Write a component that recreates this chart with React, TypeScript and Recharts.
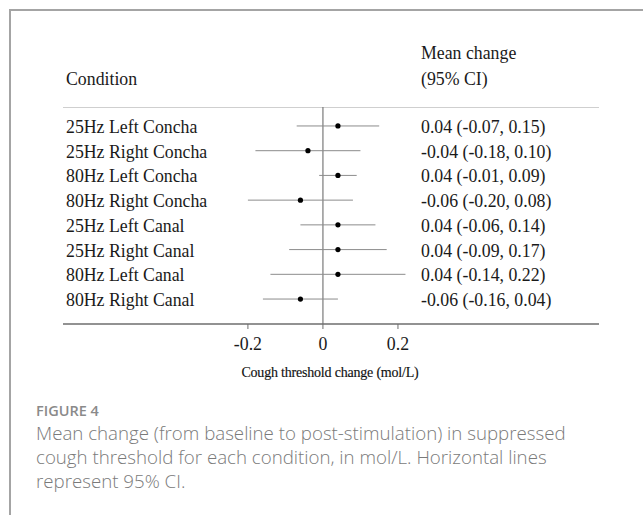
import React from 'react';
import { ScatterChart, Scatter, XAxis, YAxis, ErrorBar, ReferenceLine } from 'recharts';

// forest plot data
const conditions = [
    '25Hz Left Concha', '25Hz Right Concha', '80Hz Left Concha', '80Hz Right Concha',
    '25Hz Left Canal', '25Hz Right Canal', '80Hz Left Canal', '80Hz Right Canal',
];
const means = [0.04, -0.04, 0.04, -0.06, 0.04, 0.04, 0.04, -0.06];
const lower = [-0.07, -0.18, -0.01, -0.20, -0.06, -0.09, -0.14, -0.16];
const upper = [0.15, 0.10, 0.09, 0.08, 0.14, 0.17, 0.22, 0.04];
const xTicks = [-0.2, 0, 0.2];

const SERIF = '"Liberation Serif", "Times New Roman", serif';
const SANS = '"Open Sans", Lato, sans-serif';
const FS = 17.8;

const fmt = (v: number) => v.toFixed(2);

const rows = conditions.map((name, i) => ({
    name,
    mean: means[i],
    err: [means[i] - lower[i], upper[i] - means[i]],
    label: `${fmt(means[i])} (${fmt(lower[i])}, ${fmt(upper[i])})`,
}));

const RowTick = (props: any) => {
    const { y, payload } = props;
    const row = rows[payload.index];
    return (
        <g>
            <text x={66} y={y} dy={7} fontSize={FS} fontFamily={SERIF} fill="#1a1a1a" textAnchor="start">{row.name}</text>
            <text x={421} y={y} dy={7} fontSize={FS} fontFamily={SERIF} fill="#1a1a1a" textAnchor="start">{row.label}</text>
        </g>
    );
};

const Dot = (props: any) => <circle cx={props.cx} cy={props.cy} r={2.6} fill="#000" />;

export default function App() {
    return (
        <div style={{ position: 'absolute', left: 0, top: 0, width: 643, height: 515, background: '#fff', overflow: 'hidden' }}>
            <div style={{ position: 'absolute', left: 9, top: 9, right: -2, bottom: -2, borderTop: '2px solid #a4a4a4', borderLeft: '2px solid #a4a4a4' }} />

            <svg width={643} height={120} style={{ position: 'absolute', left: 0, top: 0 }}>
                <text x={66} y={85} fontSize={FS} fontFamily={SERIF} fill="#1a1a1a">Condition</text>
                <text x={421} y={59} fontSize={FS} fontFamily={SERIF} fill="#1a1a1a">Mean change</text>
                <text x={421} y={85} fontSize={FS} fontFamily={SERIF} fill="#1a1a1a">(95% CI)</text>
                <line x1={63} x2={599} y1={107.5} y2={107.5} stroke="#cfcfcf" strokeWidth={1} />
            </svg>

            <div style={{ position: 'absolute', left: 0, top: 0 }}>
                <ScatterChart width={643} height={400} margin={{ top: 107, right: 44, bottom: 46, left: 0 }}>
                    <XAxis
                        type="number"
                        dataKey="mean"
                        domain={[-0.693, 0.736]}
                        ticks={xTicks}
                        allowDataOverflow
                        height={30}
                        tickSize={5}
                        tickMargin={8}
                        axisLine={{ stroke: '#6e6e6e', strokeWidth: 1.5 }}
                        tickLine={{ stroke: '#6e6e6e' }}
                        tick={{ fontSize: FS, fontFamily: SERIF, fill: '#1a1a1a' }}
                        tickFormatter={(v: number) => (v === 0 ? '0' : String(v))}
                    />
                    <YAxis
                        type="category"
                        dataKey="name"
                        width={63}
                        reversed
                        padding={{ top: 6.6, bottom: 12.6 }}
                        axisLine={false}
                        tickLine={false}
                        interval={0}
                        tick={<RowTick />}
                    />
                    <ReferenceLine x={0} stroke="#7a7a7a" strokeWidth={1.2} />
                    <Scatter data={rows} shape={<Dot />} isAnimationActive={false}>
                        <ErrorBar dataKey="err" direction="x" width={0} stroke="#8c8c8c" strokeWidth={1} />
                    </Scatter>
                </ScatterChart>
            </div>

            <svg width={643} height={30} style={{ position: 'absolute', left: 0, top: 358 }}>
                <text x={330} y={19} textAnchor="middle" fontSize={14} fontFamily={SERIF} fill="#111" letterSpacing={-0.2} stroke="#111" strokeWidth={0.15}>Cough threshold change (mol/L)</text>
            </svg>

            <div style={{ position: 'absolute', left: 36, top: 402, fontFamily: SANS, fontSize: 14.5, lineHeight: '18px', fontWeight: 600, color: '#8a8a8a' }}>
                FIGURE 4
            </div>
            <div style={{ position: 'absolute', left: 36, top: 421, width: 605, fontFamily: SANS, fontSize: 18.7, lineHeight: '24px', fontWeight: 300, color: '#7a7a7a', whiteSpace: 'nowrap' }}>
                Mean change (from baseline to post-stimulation) in suppressed<br />
                cough threshold for each condition, in mol/L. Horizontal lines<br />
                represent 95% CI.
            </div>
        </div>
    );
}
